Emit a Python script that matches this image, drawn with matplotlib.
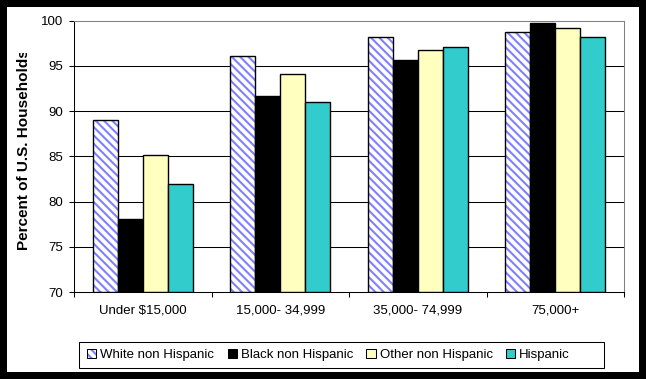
import matplotlib

matplotlib.use("Agg")
import matplotlib.pyplot as plt
import numpy as np
from matplotlib.patches import Patch, Rectangle

categories = ["Under $15,000", "15,000- 34,999", "35,000- 74,999", "75,000+"]
series_names = ["White non Hispanic", "Black non Hispanic", "Other non Hispanic", "Hispanic"]
white_vals = [89.0, 96.1, 98.2, 98.8]
black_vals = [78.1, 91.7, 95.6, 99.8]
other_vals = [85.1, 94.1, 96.8, 99.2]
hispanic_vals = [81.9, 91.0, 97.1, 98.2]
y_ticks = [70, 75, 80, 85, 90, 95, 100]

plt.rcParams["font.family"] = ["Liberation Sans", "DejaVu Sans"]
plt.rcParams["hatch.linewidth"] = 1.5

W, H = 646, 379
fig = plt.figure(figsize=(W / 100, H / 100), dpi=100, facecolor="black")

# white card inside the black frame
fig.patches.append(Rectangle((7 / W, 7 / H), (639 - 7) / W, (372 - 7) / H,
                             transform=fig.transFigure, facecolor="white",
                             edgecolor="none", zorder=-5))

ax = fig.add_axes([74 / W, 1 - 292 / H, (624 - 74) / W, (292 - 20.7) / H])
ax.set_facecolor("white")

x = np.arange(len(categories))
bw = 0.1815
offsets = [-1.5 * bw, -0.5 * bw, 0.5 * bw, 1.5 * bw]
base = 70

# white bars with blue diagonal stripes
ax.bar(x + offsets[0], np.array(white_vals) - base, bw, bottom=base, color="white",
       edgecolor="#8080ff", hatch="\\\\\\\\", linewidth=0, zorder=3)
ax.bar(x + offsets[0], np.array(white_vals) - base, bw, bottom=base, fill=False,
       edgecolor="black", linewidth=1.0, zorder=4)
ax.bar(x + offsets[1], np.array(black_vals) - base, bw, bottom=base, color="black",
       edgecolor="black", linewidth=1.0, zorder=3)
ax.bar(x + offsets[2], np.array(other_vals) - base, bw, bottom=base, color="#ffffc0",
       edgecolor="black", linewidth=1.0, zorder=3)
ax.bar(x + offsets[3], np.array(hispanic_vals) - base, bw, bottom=base, color="#33cccc",
       edgecolor="black", linewidth=1.0, zorder=3)

ax.set_xlim(-0.5, len(categories) - 0.5)
ax.set_ylim(70, 100)
ax.set_yticks(y_ticks)
ax.set_yticklabels([str(t) for t in y_ticks], fontsize=9.5)
ax.tick_params(axis="y", direction="out", length=3.6, width=0.75, pad=4)

ax.set_xticks(x)
ax.set_xticklabels(categories, fontsize=9.5)
ax.set_xticks(np.arange(-0.5, len(categories)), minor=True)
ax.tick_params(axis="x", which="major", length=0, pad=9)
ax.tick_params(axis="x", which="minor", direction="out", length=3.6, width=0.75)

for t in y_ticks[1:-1]:
    ax.axhline(t, color="black", linewidth=0.75, zorder=1)

ax.spines["left"].set_color("black")
ax.spines["bottom"].set_color("black")
ax.spines["top"].set_color("#808080")
ax.spines["right"].set_color("#808080")
for s in ax.spines.values():
    s.set_linewidth(0.75)
    s.set_zorder(5)

# y label; its top end is cut off like the original
fig.text(24 / W, 1 - 250 / H, "Percent of U.S. Households", rotation=90,
         ha="center", va="bottom", fontsize=11, fontweight="bold", zorder=3)
fig.patches.append(Rectangle((8 / W, 1 - 53 / H), 28 / W, 46 / H,
                             transform=fig.transFigure, facecolor="white",
                             edgecolor="none", zorder=4))

# legend
handles = [
    (Patch(facecolor="white", edgecolor="#8080ff", hatch="\\\\\\\\", linewidth=0),
     Patch(fill=False, edgecolor="black", linewidth=0.75)),
    Patch(facecolor="black", edgecolor="black", linewidth=0.75),
    Patch(facecolor="#ffffc0", edgecolor="black", linewidth=0.75),
    Patch(facecolor="#33cccc", edgecolor="black", linewidth=0.75),
]
fig.legend(handles, series_names, loc="center left",
           bbox_to_anchor=(78 / W, 1 - 355 / H), ncol=4, frameon=False,
           fontsize=9.5, handlelength=0.7, handleheight=0.7, handletextpad=0.3,
           columnspacing=1.0, borderpad=0.2)
fig.patches.append(Rectangle((79 / W, 1 - 368 / H), (604 - 79) / W, (368 - 342) / H,
                             transform=fig.transFigure, facecolor="none",
                             edgecolor="black", linewidth=0.75, zorder=1))

fig.savefig("out.png", dpi=100, facecolor=fig.get_facecolor())
